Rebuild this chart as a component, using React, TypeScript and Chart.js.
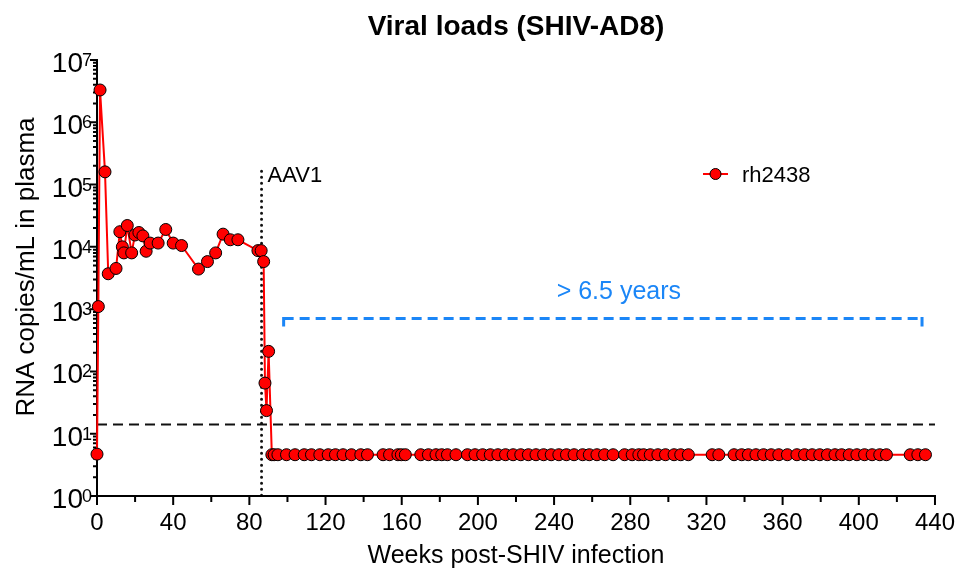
import React, { useEffect, useRef } from 'react';
import { Chart, registerables } from 'chart.js';
Chart.register(...registerables);

const chartTitle = 'Viral loads (SHIV-AD8)';
const xAxisTitle = 'Weeks post-SHIV infection';
const yAxisTitle = 'RNA copies/mL in plasma';
const seriesLabel = 'rh2438';

// Acute / chronic phase (weeks, copies/mL)
const acuteWeeks = [0, 0.7, 1.6, 4.2, 5.9, 10, 12, 13.3, 14.1, 15.9, 18.2, 19.9, 22, 24.1, 25.8, 27.9, 32.1, 36.1, 40, 44.4, 53.3, 58, 62.3, 66.2, 70, 74, 84.5, 86.2, 87.5, 88.2, 89, 90.1];
const acuteCopies = [4.7, 1100, 3.3e6, 1.6e5, 3.7e3, 4.5e3, 1.75e4, 1.0e4, 8.0e3, 2.2e4, 8.0e3, 1.55e4, 1.7e4, 1.5e4, 8.5e3, 1.15e4, 1.15e4, 1.9e4, 1.15e4, 1.05e4, 4.4e3, 5.8e3, 8.0e3, 1.6e4, 1.3e4, 1.3e4, 8.7e3, 8.7e3, 5.8e3, 65, 23.5, 210];
// Below detection after AAV1 (plotted near 5 copies/mL)
const suppressedWeeks = [91.8, 93, 95, 99.5, 104, 108.8, 112.6, 117, 121.4, 125.2, 129.2, 133.6, 138.5, 142, 150.2, 153.6, 158, 159.8, 161.9, 170, 174, 178, 181, 184, 188.5, 194.5, 198.5, 202.5, 206.5, 210.5, 214.5, 218.5, 222.5, 226.5, 230.5, 234.5, 238.5, 242.5, 246.5, 250.5, 255, 258.5, 262.5, 266.5, 271, 277, 281, 284.5, 287, 290.5, 294.5, 298.5, 303, 306.5, 310.5, 323, 326.5, 334.5, 338.5, 342, 346, 350, 354, 358, 362.5, 367.5, 371.5, 375.5, 379.5, 383.5, 387.5, 391, 395, 399, 403, 407, 411, 414.5, 427, 431, 435];
const suppressedCopies = suppressedWeeks.map(() => 4.6);

const xMajorTicks = [0, 40, 80, 120, 160, 200, 240, 280, 320, 360, 400, 440];
const xMinorTicks = [20, 60, 100, 140, 180, 220, 260, 300, 340, 380, 420];
const yDecadeExponents = [0, 1, 2, 3, 4, 5, 6, 7];
const yMinorMultipliers = [2, 3, 4, 5, 6, 7, 8, 9];

const detectionLimit = 14;
const aav1Week = 86.4;
const aav1TopValue = 1.64e5;
const aav1Label = 'AAV1';
const bracketStartWeek = 98;
const bracketEndWeek = 433.2;
const bracketValue = 705;
const bracketLabel = '> 6.5 years';
const bracketLabelWeek = 274;

const FONT = '"Liberation Sans", Arial, Helvetica, sans-serif';
const RED = '#ff0000';
const BLUE = '#1b86f7';

export default function App() {
  const canvasRef = useRef<HTMLCanvasElement | null>(null);

  useEffect(() => {
    const canvas = canvasRef.current;
    if (!canvas) return;

    const points = acuteWeeks.map((w, i) => ({ x: w, y: acuteCopies[i] }))
      .concat(suppressedWeeks.map((w, i) => ({ x: w, y: suppressedCopies[i] })));

    const annotate = {
      id: 'annotate',
      beforeDatasetsDraw(chart: any) {
        const { ctx, scales } = chart;
        const xs = scales.x, ys = scales.y;
        const left = xs.left, right = xs.right;
        const bottom = ys.bottom, top = ys.top;
        ctx.save();
        // LOD dashed line
        const ly = ys.getPixelForValue(detectionLimit);
        ctx.strokeStyle = '#111';
        ctx.lineWidth = 2;
        ctx.setLineDash([10, 6]);
        ctx.beginPath();
        ctx.moveTo(left, ly);
        ctx.lineTo(right, ly);
        ctx.stroke();
        // AAV1 dotted line
        const ax = xs.getPixelForValue(aav1Week);
        ctx.setLineDash([0, 6]);
        ctx.lineCap = 'round';
        ctx.lineWidth = 3;
        ctx.beginPath();
        ctx.moveTo(ax, ys.getPixelForValue(aav1TopValue));
        ctx.lineTo(ax, bottom);
        ctx.stroke();
        ctx.lineCap = 'butt';
        // bracket
        const bx1 = xs.getPixelForValue(bracketStartWeek);
        const bx2 = xs.getPixelForValue(bracketEndWeek);
        const by = ys.getPixelForValue(bracketValue);
        ctx.strokeStyle = BLUE;
        ctx.lineWidth = 3;
        ctx.setLineDash([10, 6]);
        ctx.beginPath();
        ctx.moveTo(bx1, by);
        ctx.lineTo(bx2, by);
        ctx.stroke();
        ctx.setLineDash([]);
        ctx.beginPath();
        ctx.moveTo(bx1, by - 1.5);
        ctx.lineTo(bx1, by + 8);
        ctx.moveTo(bx2, by - 1.5);
        ctx.lineTo(bx2, by + 8);
        ctx.stroke();

        // axes
        ctx.strokeStyle = '#000';
        ctx.lineWidth = 2;
        ctx.beginPath();
        ctx.moveTo(left, top - 1);
        ctx.lineTo(left, bottom + 1);
        ctx.moveTo(left - 1, bottom);
        ctx.lineTo(right + 1, bottom);
        ctx.stroke();
        // x ticks
        ctx.beginPath();
        xMajorTicks.forEach((v) => {
          const px = xs.getPixelForValue(v);
          ctx.moveTo(px, bottom);
          ctx.lineTo(px, bottom + 9);
        });
        xMinorTicks.forEach((v) => {
          const px = xs.getPixelForValue(v);
          ctx.moveTo(px, bottom);
          ctx.lineTo(px, bottom + 6);
        });
        ctx.stroke();
        // y ticks
        ctx.beginPath();
        yDecadeExponents.forEach((e) => {
          const py = ys.getPixelForValue(Math.pow(10, e));
          ctx.moveTo(left, py);
          ctx.lineTo(left - 7, py);
          if (e < 7) {
            yMinorMultipliers.forEach((m) => {
              const pm = ys.getPixelForValue(m * Math.pow(10, e));
              ctx.moveTo(left, pm);
              ctx.lineTo(left - 4, pm);
            });
          }
        });
        ctx.stroke();
        ctx.restore();
      },
      afterDraw(chart: any) {
        const { ctx, scales, chartArea } = chart;
        const xs = scales.x, ys = scales.y;
        ctx.save();
        ctx.fillStyle = '#000';
        // y tick labels with superscripts
        yDecadeExponents.forEach((e) => {
          const py = ys.getPixelForValue(Math.pow(10, e));
          ctx.textBaseline = 'alphabetic';
          ctx.textAlign = 'right';
          ctx.font = `18px ${FONT}`;
          ctx.fillText(String(e), 92, py + 6);
          ctx.font = `28px ${FONT}`;
          ctx.fillText('10', 83, py + 12);
        });
        // title
        const cx = (chartArea.left + chartArea.right) / 2;
        ctx.textAlign = 'center';
        ctx.font = `bold 28px ${FONT}`;
        ctx.fillText(chartTitle, cx, 35);
        // x title
        ctx.font = `25px ${FONT}`;
        ctx.fillText(xAxisTitle, cx, 563);
        // y title
        ctx.save();
        ctx.translate(34, (chartArea.top + chartArea.bottom) / 2 - 11);
        ctx.rotate(-Math.PI / 2);
        ctx.font = `26px ${FONT}`;
        ctx.fillText(yAxisTitle, 0, 0);
        ctx.restore();
        // AAV1 label
        ctx.textAlign = 'left';
        ctx.font = `22px ${FONT}`;
        ctx.fillText(aav1Label, xs.getPixelForValue(aav1Week) + 6, ys.getPixelForValue(aav1TopValue) + 11);
        // bracket label
        ctx.fillStyle = BLUE;
        ctx.textAlign = 'center';
        ctx.font = `25px ${FONT}`;
        ctx.fillText(bracketLabel, xs.getPixelForValue(bracketLabelWeek), ys.getPixelForValue(bracketValue) - 20);
        // legend
        const lx = 703, lyy = 174;
        ctx.strokeStyle = RED;
        ctx.lineWidth = 2;
        ctx.beginPath();
        ctx.moveTo(lx, lyy);
        ctx.lineTo(lx + 25, lyy);
        ctx.stroke();
        ctx.beginPath();
        ctx.arc(lx + 12.5, lyy, 5.5, 0, Math.PI * 2);
        ctx.fillStyle = RED;
        ctx.fill();
        ctx.strokeStyle = '#000';
        ctx.lineWidth = 1;
        ctx.stroke();
        ctx.fillStyle = '#000';
        ctx.textAlign = 'left';
        ctx.font = `22px ${FONT}`;
        ctx.fillText(seriesLabel, 742, lyy + 8);
        ctx.restore();
      },
    };

    const chart = new Chart(canvas, {
      type: 'line',
      data: {
        datasets: [
          {
            label: seriesLabel,
            data: points,
            borderColor: RED,
            borderWidth: 2,
            backgroundColor: RED,
            pointBackgroundColor: RED,
            pointBorderColor: '#000',
            pointBorderWidth: 1,
            pointRadius: 6,
            tension: 0,
            clip: false as any,
          },
        ],
      },
      options: {
        animation: false,
        responsive: true,
        maintainAspectRatio: false,
        layout: { padding: { left: 0, right: 23, top: 60, bottom: 0 } },
        plugins: { legend: { display: false }, title: { display: false }, tooltip: { enabled: false } },
        scales: {
          x: {
            type: 'linear',
            min: 0,
            max: 440,
            grid: { display: false },
            border: { display: false },
            afterBuildTicks: (s: any) => {
              s.ticks = xMajorTicks.map((v) => ({ value: v }));
            },
            afterFit: (s: any) => {
              s.height = 78;
            },
            ticks: {
              autoSkip: false,
              maxRotation: 0,
              padding: 5,
              color: '#000',
              font: { family: FONT, size: 24 },
              callback: (v: any) => String(v),
            },
          },
          y: {
            type: 'logarithmic',
            min: 1,
            max: 1e7,
            grid: { display: false },
            border: { display: false },
            ticks: { display: false },
            afterFit: (s: any) => {
              s.width = 97;
            },
          },
        },
      },
      plugins: [annotate],
    });
    return () => chart.destroy();
  }, []);

  return (
    <div style={{ position: 'fixed', left: 0, top: 0, width: 960, height: 574, background: '#fff' }}>
      <canvas ref={canvasRef} />
    </div>
  );
}
